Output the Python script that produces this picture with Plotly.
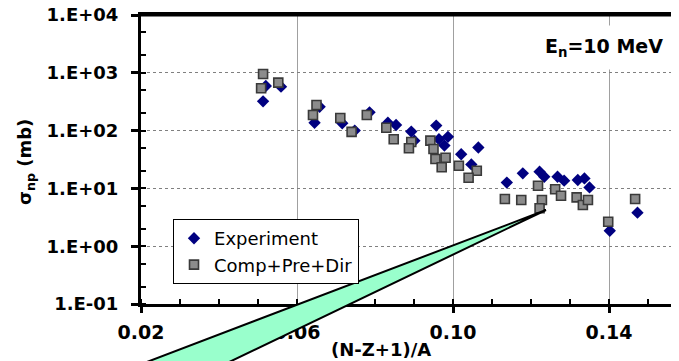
import plotly.graph_objects as go

# ---- data ----
exp_x = [0.0513, 0.0520, 0.0559, 0.0658, 0.0645, 0.0716, 0.0748, 0.0786, 0.0833, 0.0854,
         0.0893, 0.0901, 0.0957, 0.0964, 0.0987, 0.0978, 0.1021, 0.1065, 0.1047, 0.1138,
         0.1179, 0.1222, 0.1234, 0.1268, 0.1285, 0.1320, 0.1337, 0.1350, 0.1402, 0.1473]
exp_y = [321, 590, 575, 259, 137, 134, 100, 207, 137, 125,
         96, 67, 122, 71, 78, 55, 39, 51, 26, 12.6,
         18.2, 19.5, 15.9, 15.9, 13.6, 14.0, 14.9, 10.4, 1.85, 3.8]

calc_x = [0.0513, 0.0508, 0.0552, 0.0650, 0.0641, 0.0711, 0.0740, 0.0779, 0.0829, 0.0848,
          0.0893, 0.0887, 0.0942, 0.0950, 0.0955, 0.0981, 0.0971, 0.1015, 0.1061, 0.1040,
          0.1133, 0.1175, 0.1218, 0.1228, 0.1222, 0.1262, 0.1277, 0.1317, 0.1333, 0.1346,
          0.1398, 0.1467]
calc_y = [955, 540, 675, 277, 186, 165, 95, 186, 112, 71,
          63.5, 49.4, 67, 48, 32.3, 34, 23.2, 24.7, 20.2, 15.3,
          6.56, 6.3, 11.1, 6.3, 4.53, 9.64, 7.48, 7.0, 5.16, 6.3,
          2.65, 6.56]

series_names = ["Experiment", "Comp+Pre+Dir"]
x_tick_vals = [0.02, 0.06, 0.10, 0.14]
x_tick_labels = ["0.02", "0.06", "0.10", "0.14"]
y_tick_vals = [0.1, 1, 10, 100, 1000, 10000]
y_tick_labels = ["1.E-01", "1.E+00", "1.E+01", "1.E+02", "1.E+03", "1.E+04"]
x_title = "(N-Z+1)/A"
y_title = "σ<sub>np</sub> (mb)"
energy_label = "E<sub>n</sub>=10 MeV"

# callout wedge (paper coordinates): apex and two far corners
wedge_apex = (0.7528, 0.3253)
wedge_far_upper = (-0.1747, -0.3322)
wedge_far_lower = (0.0167, -0.3322)

FONT = "DejaVu Sans"

fig = go.Figure()
fig.add_trace(go.Scatter(
    x=exp_x, y=exp_y, mode="markers", name=series_names[0], legendgroup="a",
    marker=dict(symbol="diamond", size=9.5, color="#000080", line=dict(width=0)),
))
fig.add_trace(go.Scatter(
    x=calc_x, y=calc_y, mode="markers", name=series_names[1], legendgroup="b",
    marker=dict(symbol="square", size=9, color="#8C8C8C", line=dict(width=1.6, color="#3A3A3A")),
))

path = "M {0},{1} L {2},{3} L {4},{5} Z".format(
    wedge_apex[0], wedge_apex[1], wedge_far_upper[0], wedge_far_upper[1],
    wedge_far_lower[0], wedge_far_lower[1])
fig.add_shape(type="path", path=path, xref="paper", yref="paper",
              fillcolor="#99FFCC", line=dict(color="black", width=2), layer="above")
# top frame line
fig.add_shape(type="line", xref="paper", yref="paper", x0=0, x1=1, y0=1, y1=1,
              line=dict(color="black", width=3), layer="above")

fig.add_annotation(text=energy_label, xref="paper", yref="paper", x=0.8606, y=0.886,
                   xanchor="center", yanchor="middle",
                   showarrow=False, bgcolor="white", borderpad=9,
                   font=dict(family=FONT, size=19, color="black", weight="bold"))
fig.add_annotation(text=x_title, xref="paper", yref="paper", x=0.446, y=-0.159,
                   xanchor="center", yanchor="middle", showarrow=False,
                   font=dict(family=FONT, size=18, color="black", weight="bold"))
fig.add_annotation(text=y_title, xref="paper", yref="paper", x=-0.2138, y=0.491,
                   xanchor="center", yanchor="middle", showarrow=False, textangle=-90,
                   font=dict(family=FONT, size=18, color="black", weight="bold"))

# the page body adds an 8px offset; the figure is sized so that it fills the window
fig.update_layout(
    width=671, height=353,
    margin=dict(l=133, r=0, t=7, b=57, autoexpand=False),
    paper_bgcolor="white", plot_bgcolor="white",
    showlegend=True,
    legend=dict(x=0.0595, y=0.294, xanchor="left", yanchor="top",
                bgcolor="white", bordercolor="black", borderwidth=1,
                font=dict(family=FONT, size=18, color="black"),
                traceorder="grouped", tracegroupgap=0, itemwidth=30),
    xaxis=dict(range=[0.02, 0.15795], tickvals=x_tick_vals, ticktext=x_tick_labels,
               automargin=False, ticklabeloverflow="allow",
               showgrid=True, gridcolor="#A0A0A0", gridwidth=1,
               showline=True, linecolor="black", linewidth=3, mirror=True,
               ticks="outside", ticklen=6, tickwidth=3, tickcolor="black",
               ticklabelstandoff=3,
               minor=dict(dtick=0.01, tick0=0.02, ticks="inside", ticklen=5,
                          tickwidth=2, tickcolor="black", showgrid=False),
               zeroline=False,
               tickfont=dict(family=FONT, size=19, color="black", weight="bold")),
    yaxis=dict(type="log", range=[-1, 4], tickvals=y_tick_vals, ticktext=y_tick_labels,
               automargin=False, ticklabeloverflow="allow",
               showgrid=True, gridcolor="#808080", gridwidth=1, griddash="dot",
               showline=True, linecolor="black", linewidth=3, mirror=False,
               ticks="outside", ticklen=7, tickwidth=3, tickcolor="black",
               ticklabelstandoff=9,
               minor=dict(ticks="inside", ticklen=5, tickwidth=2, tickcolor="black",
                          showgrid=False),
               zeroline=False,
               tickfont=dict(family=FONT, size=18, color="black", weight="bold")),
)

fig.write_html("out.html")
